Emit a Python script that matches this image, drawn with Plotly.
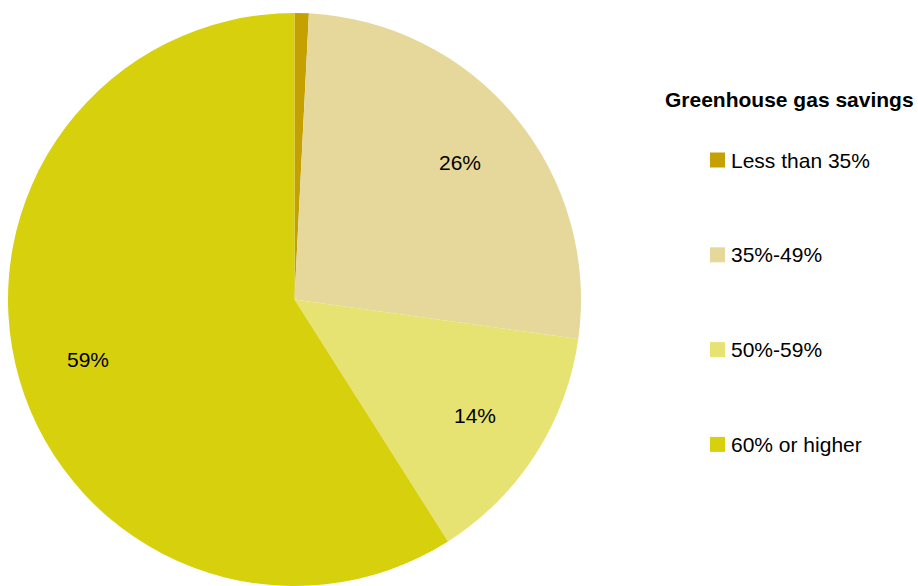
import math
import plotly.graph_objects as go

categories = ["Less than 35%", "35%-49%", "50%-59%", "60% or higher"]
values = [0.8, 26.4, 13.8, 59.0]
colors = ["#C4A000", "#E6D89A", "#E6E373", "#D6D10C"]
legend_title = "Greenhouse gas savings"

FONT = "Liberation Sans, Arial, sans-serif"
W, H = 918, 586

# pie geometry (pixels, from top-left)
CX, CY, R = 294.5, 299.5, 286.5

fig = go.Figure()
fig.add_trace(go.Pie(
    labels=categories,
    values=values,
    sort=False,
    direction="clockwise",
    rotation=0,
    marker=dict(colors=colors, line=dict(width=0)),
    textinfo="none",
    domain=dict(x=[(CX - R) / W, (CX + R) / W], y=[1 - (CY + R) / H, 1 - (CY - R) / H]),
    showlegend=False,
    hoverinfo="label+percent",
))

# slice labels, placed along each slice's mid angle
total = sum(values)
cum = 0.0
for v in values:
    frac = v / total
    mid = (cum + frac / 2) * 2 * math.pi
    cum += frac
    if frac < 0.02:
        continue
    rr = 0.75 * R
    px = CX + rr * math.sin(mid)
    py = CY - rr * math.cos(mid)
    fig.add_annotation(
        x=px / W, y=1 - py / H, xref="paper", yref="paper",
        text=f"{round(frac * 100)}%", showarrow=False,
        xanchor="center", yanchor="middle",
        font=dict(family=FONT, size=21, color="#000000"),
    )

# legend drawn from categories / colors
fig.add_annotation(
    x=789 / W, y=1 - 100 / H, xref="paper", yref="paper",
    text="<b>" + legend_title + "</b>", showarrow=False,
    xanchor="center", yanchor="middle",
    font=dict(family=FONT, size=21, color="#000000"),
)
y0 = 160.0
step = 94.8
for i, (cat, col) in enumerate(zip(categories, colors)):
    yc = y0 + i * step
    fig.add_shape(
        type="rect", xref="paper", yref="paper",
        x0=710 / W, x1=725 / W,
        y0=1 - (yc + 7.5) / H, y1=1 - (yc - 7.5) / H,
        fillcolor=col, line=dict(width=0),
    )
    fig.add_annotation(
        x=729 / W, y=1 - yc / H, xref="paper", yref="paper",
        text=cat, showarrow=False, xanchor="left", yanchor="middle",
        font=dict(family=FONT, size=21, color="#000000"),
    )

fig.update_layout(
    width=W, height=H,
    margin=dict(l=0, r=0, t=0, b=0),
    paper_bgcolor="#FFFFFF",
    plot_bgcolor="#FFFFFF",
    font=dict(family=FONT),
)

fig.write_html(
    "out.html",
    config={"displayModeBar": False},
    post_script="document.body.style.margin='0';document.body.style.padding='0';",
)
